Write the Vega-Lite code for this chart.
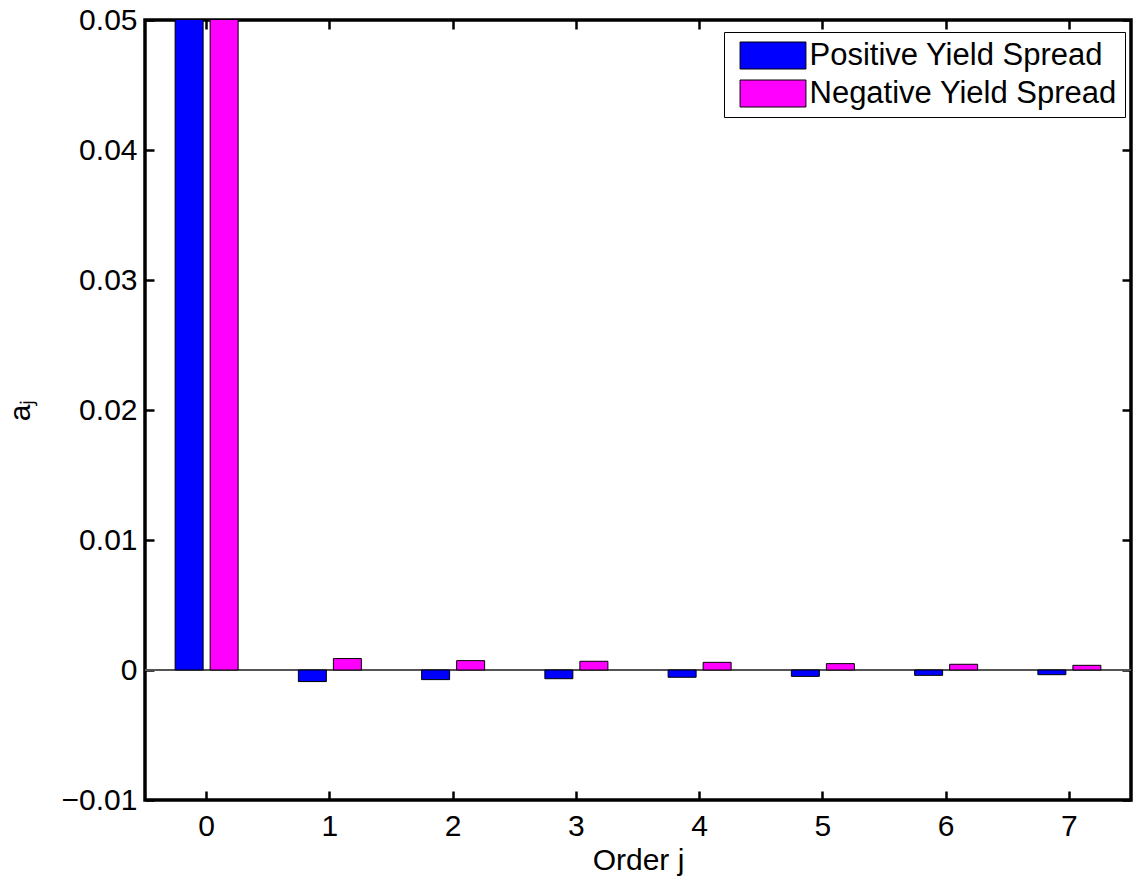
{
  "$schema": "https://vega.github.io/schema/vega-lite/v6.json",
  "autosize": {"type": "none"},
  "padding": {"left": 145, "top": 20, "right": 4, "bottom": 80},
  "width": 986,
  "height": 780,
  "background": "white",
  "config": {
    "view": {"stroke": "black", "strokeWidth": 3.5},
    "font": "Liberation Sans",
    "axis": {
      "grid": false,
      "domain": false,
      "labelFont": "Liberation Sans",
      "labelFontSize": 30,
      "labelColor": "black",
      "tickColor": "black",
      "tickWidth": 2.5,
      "tickSize": -9,
      "titleFont": "Liberation Sans",
      "titleFontSize": 30,
      "titleFontWeight": "normal",
      "titleColor": "black"
    }
  },
  "data": {
    "values": [
      {"j": "0", "series": "Positive Yield Spread", "value": 0.06},
      {"j": "0", "series": "Negative Yield Spread", "value": 0.06},
      {"j": "1", "series": "Positive Yield Spread", "value": -0.00089},
      {"j": "1", "series": "Negative Yield Spread", "value": 0.00088},
      {"j": "2", "series": "Positive Yield Spread", "value": -0.00074},
      {"j": "2", "series": "Negative Yield Spread", "value": 0.00072},
      {"j": "3", "series": "Positive Yield Spread", "value": -0.00067},
      {"j": "3", "series": "Negative Yield Spread", "value": 0.00067},
      {"j": "4", "series": "Positive Yield Spread", "value": -0.00056},
      {"j": "4", "series": "Negative Yield Spread", "value": 0.00059},
      {"j": "5", "series": "Positive Yield Spread", "value": -0.00049},
      {"j": "5", "series": "Negative Yield Spread", "value": 0.00049},
      {"j": "6", "series": "Positive Yield Spread", "value": -0.00041},
      {"j": "6", "series": "Negative Yield Spread", "value": 0.00044},
      {"j": "7", "series": "Positive Yield Spread", "value": -0.00036},
      {"j": "7", "series": "Negative Yield Spread", "value": 0.00036}
    ]
  },
  "layer": [
    {
      "mark": {"type": "rule", "color": "#555555", "strokeWidth": 1.5},
      "encoding": {"y": {"datum": 0, "type": "quantitative", "axis": null}}
    },
    {
      "mark": {"type": "bar", "stroke": "black", "strokeWidth": 1, "clip": true, "opacity": 1},
      "encoding": {
        "x": {
          "field": "j", "type": "nominal",
          "scale": {"paddingInner": 0, "paddingOuter": 0},
          "axis": {"orient": "bottom", "title": "Order j", "labelAngle": 0, "labelPadding": 20, "titlePadding": 4}
        },
        "xOffset": {
          "field": "series", "type": "nominal",
          "sort": ["Positive Yield Spread", "Negative Yield Spread"],
          "scale": {"paddingInner": 0.2, "paddingOuter": 0.86}
        },
        "y": {
          "field": "value", "type": "quantitative",
          "scale": {"domain": [-0.01, 0.05], "nice": false, "zero": false},
          "axis": {
            "orient": "left",
            "title": "aⱼ",
            "values": [-0.01, 0, 0.01, 0.02, 0.03, 0.04, 0.05],
            "labelExpr": "datum.value == 0 ? '0' : format(datum.value, '.2f')",
            "labelPadding": 17,
            "titlePadding": 26
          }
        },
        "color": {
          "field": "series", "type": "nominal",
          "sort": ["Positive Yield Spread", "Negative Yield Spread"],
          "scale": {"domain": ["Positive Yield Spread", "Negative Yield Spread"], "range": ["#0000FF", "#FF00FF"]},
          "legend": {
            "title": null,
            "orient": "none",
            "legendX": 579,
            "legendY": 12,
            "direction": "vertical",
            "fillColor": "white",
            "strokeColor": "black",
            "padding": 8,
            "symbolType": "M-2.44,-1H2.44V1H-2.44Z",
            "symbolSize": 729,
            "symbolOffset": 25.5,
            "symbolStrokeColor": "black",
            "symbolStrokeWidth": 1,
            "symbolOpacity": 1,
            "labelFont": "Liberation Sans",
            "labelFontSize": 31,
            "labelColor": "black",
            "labelOffset": 21,
            "rowPadding": 6,
            "labelLimit": 500
          }
        }
      }
    },
    {
      "mark": {"type": "point", "opacity": 0},
      "encoding": {
        "x": {"field": "j", "type": "nominal", "axis": {"orient": "top", "labels": false, "title": null}},
        "y": {"field": "value", "type": "quantitative", "axis": {"orient": "right", "labels": false, "title": null, "values": [-0.01, 0, 0.01, 0.02, 0.03, 0.04, 0.05]}}
      }
    }
  ],
  "resolve": {"axis": {"x": "independent", "y": "independent"}}
}
